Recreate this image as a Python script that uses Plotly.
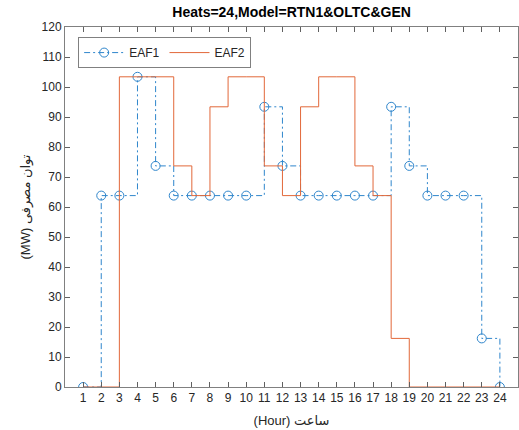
import plotly.graph_objects as go

hours = list(range(1, 25))
eaf1 = [0, 63.8, 63.8, 103.4, 73.7, 63.8, 63.8, 63.8, 63.8, 63.8, 93.4, 73.7,
        63.8, 63.8, 63.8, 63.8, 63.8, 93.4, 73.7, 63.8, 63.8, 63.8, 16.2, 0]
eaf2 = [0, 0, 103.4, 103.4, 103.4, 73.7, 63.8, 93.4, 103.4, 103.4, 73.7, 63.8,
        93.4, 103.4, 103.4, 73.7, 63.8, 16.2, 0, 0, 0, 0, 0, 0]
x_ticks = list(range(1, 25))
y_ticks = list(range(0, 121, 10))

blue = "#2f86cc"
orange = "#e2683a"

fig = go.Figure()
fig.add_trace(go.Scatter(
    x=hours, y=eaf1, name="EAF1", mode="lines+markers", line_shape="hv",
    line=dict(color=blue, width=1, dash="6px,3px,2px,3px"),
    marker=dict(symbol="circle-open", size=9, color=blue, line=dict(width=1, color=blue)),
))
fig.add_trace(go.Scatter(
    x=hours, y=eaf2, name="EAF2", mode="lines", line_shape="hv",
    line=dict(color=orange, width=1),
))

axis_common = dict(
    showline=True, linecolor="#808080", linewidth=1, mirror="allticks",
    ticks="inside", ticklen=5, tickcolor="#606060", showgrid=False, zeroline=False,
    tickfont=dict(family="Liberation Sans, Arial, sans-serif", size=12, color="#262626"),
)

fig.update_layout(
    width=519, height=430,
    margin=dict(l=65, r=1, t=27, b=43),
    paper_bgcolor="white", plot_bgcolor="white",
    title=dict(text="<b>Heats=24,Model=RTN1&OLTC&GEN</b>", x=0.5618, xanchor="center",
               y=0.972, yanchor="middle",
               font=dict(family="Liberation Sans, Arial, sans-serif", size=14, color="#000000")),
    xaxis=dict(range=[0, 25], tickmode="array", tickvals=x_ticks,
               ticktext=[str(v) for v in x_ticks],
               title=dict(text="(Hour) ساعت", standoff=11,
                          font=dict(family="Liberation Sans, DejaVu Sans, sans-serif", size=13, color="#262626")),
               **axis_common),
    yaxis=dict(range=[0, 120], tickmode="array", tickvals=y_ticks,
               title=dict(text="(MW) توان مصرفی", standoff=8,
                          font=dict(family="Liberation Sans, DejaVu Sans, sans-serif", size=13, color="#262626")),
               **axis_common),
    legend=dict(orientation="h", x=0.029, y=0.972, xanchor="left", yanchor="top",
                bgcolor="white", bordercolor="#808080", borderwidth=1,
                font=dict(family="Liberation Sans, Arial, sans-serif", size=12, color="#262626"),
                itemwidth=40, tracegroupgap=0),
    showlegend=True,
)

fig.write_html("out.html", config={"displayModeBar": False},
               post_script="document.body.style.margin='0';document.body.style.overflow='hidden';")
